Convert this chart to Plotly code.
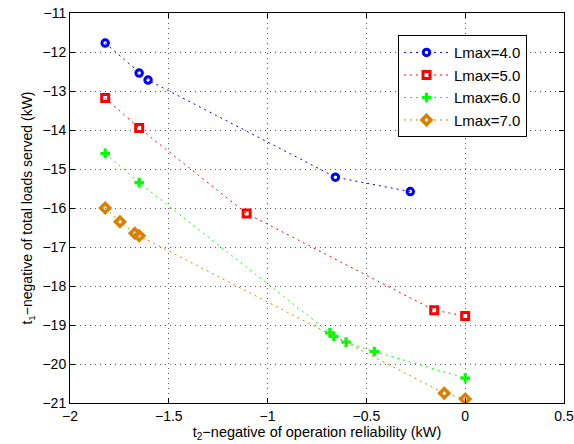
import plotly.graph_objects as go

names = ["Lmax=4.0", "Lmax=5.0", "Lmax=6.0", "Lmax=7.0"]
x_l4 = [-1.822, -1.650, -1.605, -0.657, -0.278]
y_l4 = [-11.77, -12.54, -12.72, -15.21, -15.58]
x_l5 = [-1.822, -1.650, -1.106, -0.157, 0.0]
y_l5 = [-13.18, -13.95, -16.14, -18.62, -18.77]
x_l6 = [-1.822, -1.650, -0.685, -0.665, -0.603, -0.460, 0.0]
y_l6 = [-14.60, -15.35, -19.20, -19.29, -19.44, -19.68, -20.36]
x_l7 = [-1.822, -1.747, -1.672, -1.650, -0.106, 0.0]
y_l7 = [-16.00, -16.35, -16.65, -16.71, -20.75, -20.90]

colors = ["#0000ff", "#ff0000", "#00ff00", "#d98000"]
symbols = ["circle-open", "square-open", "cross", "diamond-open"]
sizes = [6.5, 7, 8, 7]
lwidths = [3, 3, 0, 3.5]
xs = [x_l4, x_l5, x_l6, x_l7]
ys = [y_l4, y_l5, y_l6, y_l7]

fig = go.Figure()
for n, x, y, c, s, sz, lw in zip(names, xs, ys, colors, symbols, sizes, lwidths):
    fig.add_trace(go.Scatter(
        x=x, y=y, name=n, mode="lines+markers",
        line=dict(color=c, width=1, dash="2px,4px"),
        marker=dict(symbol=s, size=sz, color=c, line=dict(color=c, width=lw)),
    ))

fam = "Liberation Sans, Arial, sans-serif"
tickfont = dict(family=fam, size=14, color="black")
axis_common = dict(
    showgrid=True, gridcolor="rgba(0,0,0,0.65)", griddash="1px,4px", gridwidth=1,
    showline=True, linecolor="black", linewidth=1, mirror="ticks",
    ticks="inside", ticklen=5, tickcolor="black", zeroline=False,
    tickfont=tickfont, automargin=False,
)
fig.update_layout(
    width=574, height=444,
    margin=dict(l=70, r=10, t=13, b=41, autoexpand=False),
    paper_bgcolor="white", plot_bgcolor="white",
    font=dict(family=fam, size=14, color="black"),
    xaxis=dict(range=[-2, 0.5], dtick=0.5, tick0=-2, tickformat=".1~f",
               title=dict(text="t<sub>2</sub>\u2212negative of operation reliability (kW)",
                          font=dict(family=fam, size=14.5, color="black"), standoff=0),
               **axis_common),
    yaxis=dict(range=[-21, -11], dtick=1,
               title=dict(text="t<sub>1</sub>\u2212negative of total loads served (kW)",
                          font=dict(family=fam, size=14, color="black"), standoff=6),
               **axis_common),
    legend=dict(x=0.664, y=0.943, xanchor="left", yanchor="top",
                bgcolor="white", bordercolor="black", borderwidth=1,
                font=dict(family=fam, size=15),
                itemwidth=45, tracegroupgap=6),
    showlegend=True,
)
fig.write_html("out.html")
